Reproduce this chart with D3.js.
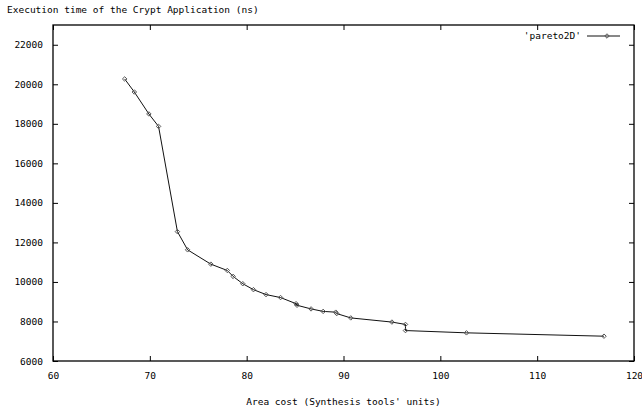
<!DOCTYPE html>
<html>
<head>
<meta charset="utf-8">
<script src="https://cdn.jsdelivr.net/npm/d3@7"></script>
<style>
  body { margin: 0; background: #fff; }
  text { font-family: "DejaVu Sans Mono", monospace; font-size: 9.5px; fill: #000; }
</style>
</head>
<body>
<svg class="chart"></svg>
<script>
// data
var area = [67.4, 68.4, 69.9, 70.9, 72.85, 73.9, 76.3, 78.0, 78.6, 79.6, 80.7, 82.0, 83.5, 85.1, 85.2, 86.65, 87.9, 89.2, 89.3, 90.75, 95.0, 96.4, 96.4, 102.7, 116.9];
var time = [20270, 19610, 18500, 17870, 12545, 11625, 10900, 10580, 10280, 9910, 9610, 9360, 9210, 8900, 8820, 8635, 8510, 8470, 8400, 8180, 7970, 7850, 7540, 7425, 7255];
var xTicks = [60, 70, 80, 90, 100, 110, 120];
var yTicks = [6000, 8000, 10000, 12000, 14000, 16000, 18000, 20000, 22000];

var data = area.map(function(a, i) { return {x: a, y: time[i]}; });

var margin = {top: 25, right: 8, bottom: 53, left: 53},
    width = 642 - margin.left - margin.right,
    height = 414 - margin.top - margin.bottom;

var svg = d3.select(".chart")
    .attr("width", 642)
    .attr("height", 414);

var chart = svg.append("g")
    .attr("transform", "translate(" + margin.left + "," + margin.top + ")");

var x = d3.scaleLinear().domain([60, 120]).range([0, width]);
var y = d3.scaleLinear().domain([6000, 23000]).range([height, 0]);

// inward ticks, mirrored like gnuplot
function styleAxis(g) {
  g.select(".domain").remove();
  g.selectAll("line").attr("stroke", "#000");
}
chart.append("g")
    .attr("transform", "translate(0," + height + ")")
    .call(d3.axisBottom(x).tickValues(xTicks).tickSizeInner(-5).tickSizeOuter(0).tickPadding(11).tickFormat(d3.format("d")))
    .call(styleAxis);
chart.append("g")
    .call(d3.axisTop(x).tickValues(xTicks).tickSizeInner(-5).tickSizeOuter(0).tickFormat(""))
    .call(styleAxis);
chart.append("g")
    .call(d3.axisLeft(y).tickValues(yTicks).tickSizeInner(-5).tickSizeOuter(0).tickPadding(10).tickFormat(d3.format("d")))
    .call(styleAxis);
chart.append("g")
    .attr("transform", "translate(" + width + ",0)")
    .call(d3.axisRight(y).tickValues(yTicks).tickSizeInner(-5).tickSizeOuter(0).tickFormat(""))
    .call(styleAxis);

chart.append("rect")
    .attr("width", width).attr("height", height)
    .attr("fill", "none").attr("stroke", "#000").attr("stroke-width", 1.3);

var line = d3.line()
    .x(function(d) { return x(d.x); })
    .y(function(d) { return y(d.y); });

chart.append("path")
    .datum(data)
    .attr("d", line)
    .attr("fill", "none")
    .attr("stroke", "#111")
    .attr("stroke-width", 1);

// small square diamond, like gnuplot's point
var diamondType = {
  draw: function(ctx, size) {
    var r = Math.sqrt(size / 2);
    ctx.moveTo(0, -r); ctx.lineTo(r, 0); ctx.lineTo(0, r); ctx.lineTo(-r, 0); ctx.closePath();
  }
};
var diamond = d3.symbol().type(diamondType).size(10);
chart.selectAll(".pt")
    .data(data)
    .enter().append("path")
    .attr("class", "pt")
    .attr("d", diamond)
    .attr("transform", function(d) { return "translate(" + x(d.x) + "," + y(d.y) + ")"; })
    .attr("fill", "none")
    .attr("stroke", "#555")
    .attr("stroke-width", 1);

// legend
var lg = chart.append("g").attr("transform", "translate(" + (width - 47) + ",11)");
lg.append("text").attr("x", -6).attr("y", 0).attr("dy", "0.32em")
    .attr("text-anchor", "end").text("'pareto2D'");
lg.append("line").attr("x1", 0).attr("x2", 33).attr("stroke", "#111");
lg.append("path").attr("d", diamond).attr("transform", "translate(20,0)")
    .attr("fill", "none").attr("stroke", "#555");

// titles
svg.append("text").attr("x", 7).attr("y", 13)
    .text("Execution time of the Crypt Application (ns)");
svg.append("text").attr("x", margin.left + width / 2).attr("y", 405)
    .attr("text-anchor", "middle")
    .text("Area cost (Synthesis tools' units)");
</script>
</body>
</html>
